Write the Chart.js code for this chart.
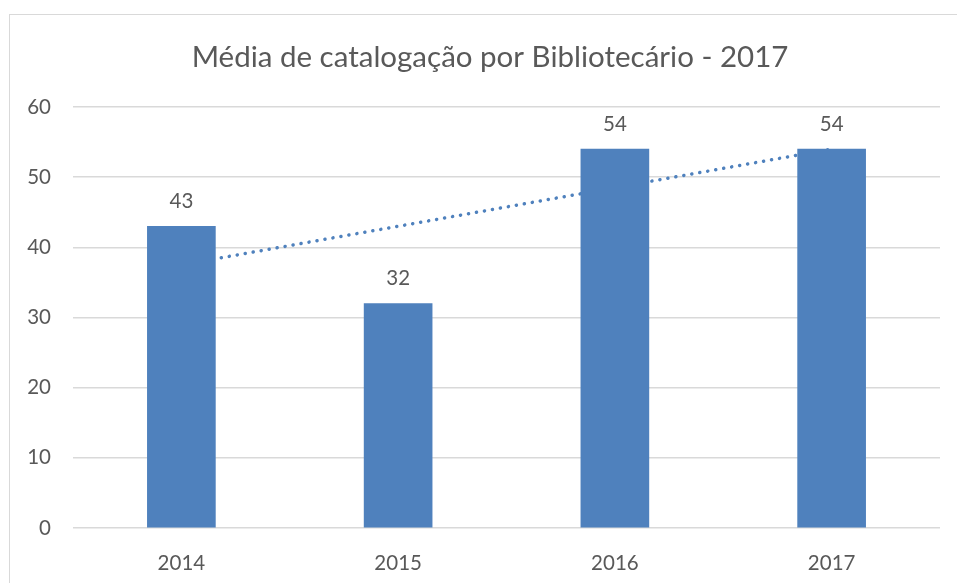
<!DOCTYPE html>
<html>
<head>
<meta charset="utf-8">
<script src="https://cdn.jsdelivr.net/npm/chart.js@4.4.0/dist/chart.umd.min.js"></script>
<style>
  html, body { margin: 0; padding: 0; background: #ffffff; }
  #wrap { width: 957px; height: 583px; position: relative; }
</style>
</head>
<body>
<div id="wrap"><canvas id="chart" width="957" height="583"></canvas></div>
<script>
// Chart data
const categories = ['2014', '2015', '2016', '2017'];
const mediaValues = [43, 32, 54, 54];
const trendValues = [37.5, 43, 48.5, 54];
const yTicks = [0, 10, 20, 30, 40, 50, 60];
const chartTitle = 'Média de catalogação por Bibliotecário - 2017';

const barColor = '#4F81BD';
const textColor = '#595959';
const gridColor = '#D9D9D9';
const fontFamily = 'Lato, "Open Sans", sans-serif';

// Background, frame and title
const framePlugin = {
    id: 'frame',
    beforeDraw(chart) {
        const ctx = chart.ctx;
        ctx.save();
        ctx.fillStyle = '#ffffff';
        ctx.fillRect(0, 0, chart.width, chart.height);
        ctx.strokeStyle = '#D9D9D9';
        ctx.lineWidth = 1;
        ctx.strokeRect(9.5, 14.5, chart.width + 10, chart.height + 10);
        ctx.fillStyle = textColor;
        ctx.font = '29.5px ' + fontFamily;
        ctx.textAlign = 'center';
        ctx.textBaseline = 'middle';
        ctx.fillText(chartTitle, 490, 57);
        ctx.restore();
    }
};

// Value labels above the bars
const valueLabels = {
    id: 'valueLabels',
    afterDatasetsDraw(chart) {
        const ctx = chart.ctx;
        const meta = chart.getDatasetMeta(0);
        ctx.save();
        ctx.fillStyle = textColor;
        ctx.font = '20.5px ' + fontFamily;
        ctx.textAlign = 'center';
        ctx.textBaseline = 'middle';
        meta.data.forEach((bar, i) => {
            ctx.fillText(String(mediaValues[i]), bar.x, bar.y - 25);
        });
        ctx.restore();
    }
};

new Chart(document.getElementById('chart'), {
    type: 'bar',
    data: {
        labels: categories,
        datasets: [
            {
                label: 'Média',
                data: mediaValues,
                backgroundColor: barColor,
                barThickness: 68,
                order: 1
            },
            {
                type: 'line',
                label: 'Tendência',
                data: trendValues,
                borderColor: barColor,
                borderWidth: 3.5,
                borderDash: [0.1, 8],
                borderCapStyle: 'round',
                pointRadius: 0,
                fill: false,
                order: 2
            }
        ]
    },
    options: {
        responsive: false,
        animation: false,
        devicePixelRatio: 1,
        layout: { padding: { left: 10, right: 17, top: 107, bottom: 0 } },
        plugins: {
            legend: { display: false },
            title: { display: false },
            tooltip: { enabled: false }
        },
        scales: {
            x: {
                grid: { display: false },
                border: { display: false },
                ticks: { color: textColor, font: { family: fontFamily, size: 20.5 }, padding: 15 },
                afterFit(scale) { scale.height = 55; }
            },
            y: {
                min: 0,
                max: 60,
                afterBuildTicks(scale) { scale.ticks = yTicks.map(v => ({ value: v })); },
                grid: { color: gridColor, lineWidth: 1.5, drawTicks: false },
                border: { display: false },
                ticks: { color: textColor, font: { family: fontFamily, size: 20.5 }, padding: 22 },
                afterFit(scale) { scale.width = 63; }
            }
        }
    },
    plugins: [framePlugin, valueLabels]
});
</script>
</body>
</html>
